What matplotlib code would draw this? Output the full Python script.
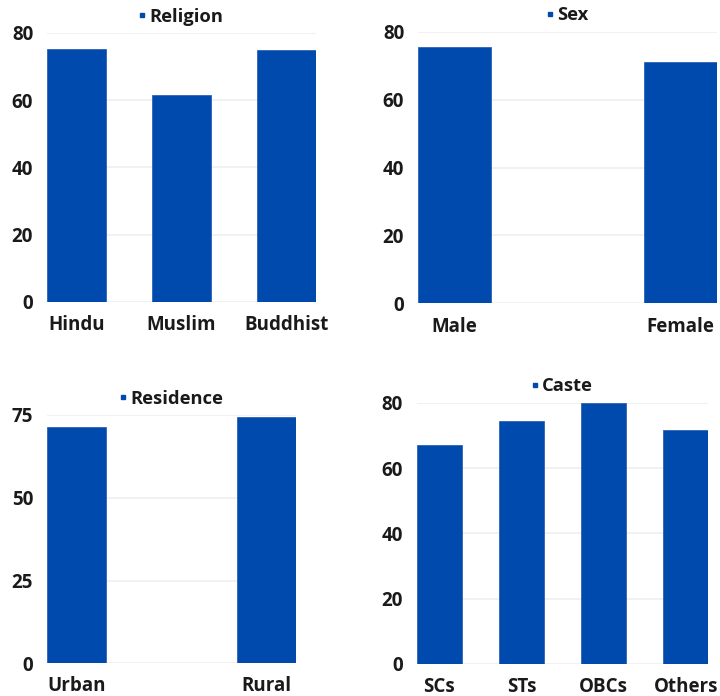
import matplotlib
matplotlib.use("Agg")
import matplotlib.pyplot as plt
from matplotlib.lines import Line2D

plt.rcParams["font.family"] = ["Open Sans", "DejaVu Sans"]
plt.rcParams["font.weight"] = "bold"

BAR_COLOR = "#004AAD"
TEXT_COLOR = "#1a1a1a"
GRID_COLOR = "#efefef"

# ── Data ──────────────────────────────────────────────────────────────────────
religion_labels = ["Hindu", "Muslim", "Buddhist"]
religion_values = [75.2, 61.6, 74.8]

sex_labels = ["Male", "Female"]
sex_values = [75.4, 71.2]

residence_labels = ["Urban", "Rural"]
residence_values = [71.5, 74.4]

caste_labels = ["SCs", "STs", "OBCs", "Others"]
caste_values = [67.0, 74.5, 79.9, 71.6]


def draw_panel(rect, title, labels, values, width, pad, ymax, ticks):
    ax = fig.add_axes(rect)
    x = list(range(len(labels)))
    ax.bar(x, values, width=width, color=BAR_COLOR,
           edgecolor="#2f63b8", linewidth=0.6, zorder=3)
    ax.set_xlim(-pad, len(labels) - 1 + pad)
    ax.set_ylim(0, ymax)
    ax.set_yticks(ticks)
    ax.set_xticks(x)
    ax.set_xticklabels(labels)
    ax.tick_params(axis="both", length=0, labelsize=13.5,
                   labelcolor=TEXT_COLOR)
    ax.tick_params(axis="y", pad=10)
    ax.tick_params(axis="x", pad=9.5)
    for lbl in ax.get_xticklabels() + ax.get_yticklabels():
        lbl.set_fontweight("bold")
    ax.yaxis.grid(True, color=GRID_COLOR, linewidth=1.2, zorder=0)
    for s in ax.spines.values():
        s.set_visible(False)

    # small square key + series name acts as the panel heading
    handle = Line2D([], [], marker="s", linestyle="none", markersize=2.8,
                    color=BAR_COLOR)
    leg = ax.legend([handle], [title], loc="lower center",
                    bbox_to_anchor=(0.5, 1.0), frameon=False,
                    handlelength=0.3, handletextpad=0.25,
                    prop={"size": 13.2, "weight": "bold"},
                    borderaxespad=0.3, borderpad=0.1)
    for t in leg.get_texts():
        t.set_color(TEXT_COLOR)
    return ax


fig = plt.figure(figsize=(7.2, 6.96), dpi=100, facecolor="white")

draw_panel([0.0653, 0.5661, 0.3736, 0.3865], "Religion",
           religion_labels, religion_values, 0.56, 0.28, 80,
           [0, 20, 40, 60, 80])
draw_panel([0.5806, 0.5642, 0.4153, 0.3902], "Sex",
           sex_labels, sex_values, 0.324, 0.162, 80,
           [0, 20, 40, 60, 80])
draw_panel([0.0653, 0.0470, 0.3458, 0.3568], "Residence",
           residence_labels, residence_values, 0.31, 0.155, 75,
           [0, 25, 50, 75])
draw_panel([0.5788, 0.0460, 0.4050, 0.3754], "Caste",
           caste_labels, caste_values, 0.55, 0.275, 80,
           [0, 20, 40, 60, 80])

fig.savefig("out.png", dpi=100, facecolor="white")
